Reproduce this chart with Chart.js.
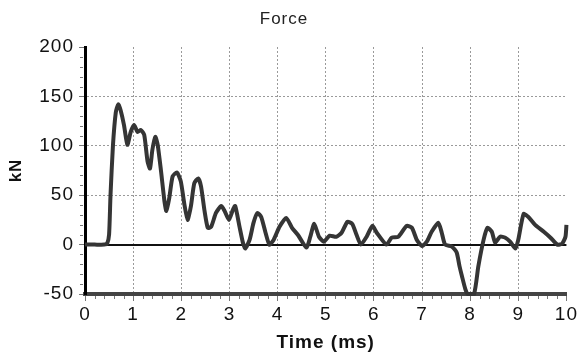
<!DOCTYPE html>
<html><head><meta charset="utf-8">
<script src="https://cdn.jsdelivr.net/npm/chart.js@4"></script>
<style>html,body{margin:0;padding:0;background:#fff}#wrap{width:579px;height:362px}</style>
</head><body><div id="wrap"><canvas id="c" width="579" height="362"></canvas></div>
<script>
const timeMs = [0,0.2,0.4,0.46,0.5,0.53,0.58,0.64,0.69,0.74,0.81,0.88,0.95,1.02,1.09,1.16,1.23,1.3,1.35,1.4,1.46,1.51,1.58,1.65,1.69,1.75,1.82,1.91,1.99,2.06,2.13,2.2,2.27,2.35,2.41,2.48,2.55,2.62,2.72,2.83,2.9,2.99,3.07,3.12,3.21,3.28,3.33,3.42,3.5,3.58,3.66,3.75,3.83,3.92,4.04,4.18,4.3,4.42,4.6,4.68,4.76,4.86,4.96,5.08,5.22,5.33,5.45,5.55,5.64,5.73,5.85,5.97,6.06,6.26,6.37,6.51,6.68,6.79,6.89,7.0,7.1,7.2,7.34,7.41,7.48,7.62,7.72,7.78,7.83,7.9,7.95,8.08,8.17,8.28,8.36,8.45,8.52,8.62,8.73,8.83,8.94,9.0,9.11,9.21,9.35,9.53,9.67,9.81,9.91,9.98,10.0];
const forceKN = [0,0,0,1,10,50,100,134,142,136,121,101,114,121,114,116,111,84,77,96,109,101,74,44,34,47,69,73,64,42,25,39,62,67,59,35,17,18,32,39,34,25,35,39,18,2,-4,5,22,32,28,12,0,5,18,27,17,10,-3,8,21,8,3,9,8,12,23,21,10,0,8,19,12,0,7,8,19,17,5,-1.5,3,13,22,12,0,-2,-8,-22,-32,-45,-50,-50,-22,5,17,13,2,8,7,3,-4,5,31,28,20,13,7,0,1,8,20];
const xMin = 0, xMax = 10, xStep = 1, xMinorStep = 0.2;
const yMin = -50, yMax = 200, yStep = 50, yMinorStep = 10;
const titleText = 'Force';
const xTitle = 'Time (ms)';
const yTitle = 'kN';
const FONT = "'Liberation Sans', Arial, sans-serif";

const extras = {
  id: 'extras',
  beforeDraw(chart) { chart.ctx.letterSpacing = '1px'; },
  beforeDatasetsDraw(chart) {
    const {ctx, chartArea: a, scales: {x, y}} = chart;
    ctx.save();
    const y0 = Math.round(y.getPixelForValue(0));
    ctx.strokeStyle = '#111'; ctx.lineWidth = 2;
    ctx.beginPath(); ctx.moveTo(a.left, y0); ctx.lineTo(a.right, y0); ctx.stroke();
    ctx.strokeStyle = '#777'; ctx.lineWidth = 1;
    ctx.beginPath();
    for (let v = yMin; v <= yMax + 1e-9; v += yMinorStep) {
      if (Math.abs(v % yStep) < 1e-9) continue;
      const py = Math.round(y.getPixelForValue(v)) + 0.5;
      ctx.moveTo(a.left - 5, py); ctx.lineTo(a.left - 2, py);
    }
    const n = Math.round((xMax - xMin) / xMinorStep);
    for (let i = 0; i <= n; i++) {
      const v = xMin + i * xMinorStep;
      if (Math.abs(v - Math.round(v)) < 1e-9) continue;
      const px = Math.round(x.getPixelForValue(v)) + 0.5;
      ctx.moveTo(px, a.bottom + 2); ctx.lineTo(px, a.bottom + 5);
    }
    ctx.stroke();
    ctx.restore();
  }
};

new Chart(document.getElementById('c'), {
  type: 'line',
  data: {
    datasets: [{
      data: timeMs.map((t, i) => ({x: t, y: forceKN[i]})),
      borderColor: '#353535',
      borderWidth: 4,
      pointRadius: 0,
      tension: 0.2,
      fill: false,
      clip: 4
    }]
  },
  options: {
    responsive: false,
    animation: false,
    layout: {padding: {left: 0, right: 11, top: 0, bottom: 0}},
    plugins: {
      legend: {display: false},
      tooltip: {enabled: false},
      title: {display: true, text: titleText, color: '#222', font: {family: FONT, size: 17, weight: 'normal'}, padding: {top: 9, bottom: 17.6}}
    },
    scales: {
      x: {
        type: 'linear', min: xMin, max: xMax,
        afterFit(s) { s.height = 68; },
        ticks: {stepSize: xStep, color: '#111', font: {family: FONT, size: 19}, padding: 2, maxRotation: 0},
        grid: {
          color: c => (c.tick && c.tick.value > xMin && c.tick.value < xMax) ? '#9a9a9a' : 'rgba(0,0,0,0)',
          lineWidth: 1, tickLength: 7, tickColor: '#777', tickWidth: 1
        },
        border: {display: true, color: '#444', width: 4, dash: [2, 2]},
        title: {display: true, text: xTitle, color: '#111', font: {family: FONT, size: 19, weight: 'bold'}, padding: {top: 2, bottom: 8}}
      },
      y: {
        type: 'linear', min: yMin, max: yMax,
        afterFit(s) { s.width = 85; },
        ticks: {stepSize: yStep, color: '#111', font: {family: FONT, size: 19}, padding: 5},
        grid: {
          color: c => (c.tick && c.tick.value > 0 && c.tick.value < yMax) ? '#9a9a9a' : 'rgba(0,0,0,0)',
          lineWidth: 1, tickLength: 6, tickColor: '#777', tickWidth: 1
        },
        border: {display: true, color: '#000', width: 3, dash: [2, 2]},
        title: {display: true, text: yTitle, color: '#111', font: {family: FONT, size: 17, weight: 'bold'}, padding: {top: 6, bottom: 4}}
      }
    }
  },
  plugins: [extras]
});
</script>
</body></html>
